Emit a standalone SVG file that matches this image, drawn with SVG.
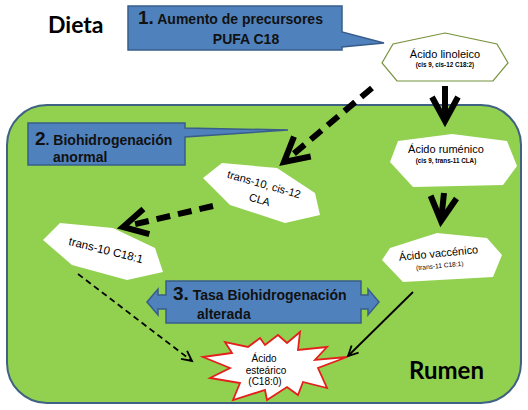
<svg xmlns="http://www.w3.org/2000/svg" width="528" height="410" viewBox="0 0 528 410">
<defs>
<style>
.title{font-family:Lato,"Open Sans","Liberation Sans",sans-serif;font-weight:bold;font-size:23px;fill:#000}
.callout{fill:#4f81bd;stroke:#385d8a;stroke-width:1.5}
.ct{font-family:"Liberation Sans",Arial,sans-serif;font-weight:bold;font-size:14px;fill:#111}
.num{font-size:19px}
.node{fill:#fff}
.nt{font-family:"Liberation Sans",Arial,sans-serif;font-size:11px;fill:#000;text-anchor:middle}
.ns{font-family:"Liberation Sans",Arial,sans-serif;font-size:6.3px;font-weight:bold;fill:#000;text-anchor:middle}
.nr{font-family:"Liberation Sans",Arial,sans-serif;font-size:6.6px;fill:#000;text-anchor:middle}
.thick{stroke:#000;stroke-width:6;fill:none}
.dash{stroke-dasharray:14 8}
.thin{stroke:#000;stroke-width:1.8;fill:none}
.tdash{stroke-dasharray:6 4}
</style>
<marker id="headThick" markerUnits="userSpaceOnUse" orient="auto" refX="0" refY="0" markerWidth="40" markerHeight="40" style="overflow:visible">
<path d="M-24,-13 L0,0 L-24,13" fill="none" stroke="#000" stroke-width="6" stroke-dasharray="none"/>
</marker>
<marker id="headThin" markerUnits="userSpaceOnUse" orient="auto" refX="0" refY="0" markerWidth="20" markerHeight="20" style="overflow:visible">
<path d="M-10,-5 L0,0 L-10,5" fill="none" stroke="#000" stroke-width="1.8" stroke-dasharray="none"/>
</marker>
</defs>
<rect x="0" y="0" width="528" height="410" fill="#fff"/>

<g id="rumen">
<rect x="7" y="105" width="514" height="298" rx="40" ry="40" fill="#92d050" stroke="#3f6183" stroke-width="2"/>
<text class="title" x="409" y="379" style="font-size:24px">Rumen</text>
</g>

<g id="dieta">
<text class="title" x="48" y="33">Dieta</text>
</g>

<g id="callout1">
<path class="callout" d="M128,6 L342,6 L342,32 L384,43 L342,47 L342,50 L128,50 Z"/>
<text class="ct" x="138" y="24"><tspan class="num">1.</tspan> Aumento de precursores</text>
<text class="ct" x="246" y="44" text-anchor="middle">PUFA C18</text>
</g>

<g id="callout2">
<path class="callout" d="M28,123 L185,123 L185,128 L288,130 L185,137 L185,165 L28,165 Z"/>
<text class="ct" x="35" y="145"><tspan class="num">2</tspan>. Biohidrogenación</text>
<text class="ct" x="53" y="162">anormal</text>
</g>

<g id="callout3">
<path class="callout" d="M147,302 L158,289 L158,295 L166,295 L166,281 L361,281 L361,295 L368,295 L368,289 L379,302 L368,315 L368,309 L361,309 L361,323 L166,323 L166,309 L158,309 L158,315 Z"/>
<text class="ct" x="173" y="300"><tspan class="num">3.</tspan> Tasa Biohidrogenación</text>
<text class="ct" x="197" y="319">alterada</text>
</g>

<g id="linoleico">
<polygon class="node" points="445,33 497,44 508,63 493,81 397,81 382,63 393,44" stroke="#77933c" stroke-width="1.2"/>
<text class="nt" x="445" y="58">Ácido linoleico</text>
<text class="ns" x="445" y="67">(cis 9, cis-12 C18:2)</text>
</g>

<g id="rumenico">
<polygon class="node" points="390,162 398,141 452,134 507,141 517,166 503,185 413,187"/>
<text class="nt" x="446" y="153">Ácido ruménico</text>
<text class="ns" x="446" y="163">(cis 9, trans-11 CLA)</text>
</g>

<g id="vaccenico">
<polygon class="node" points="382,260 390,248 437,233 487,238 502,255 493,277 403,282"/>
<g transform="rotate(-5.5 439 258)">
<text class="nt" x="439" y="257">Ácido vaccénico</text>
<text class="nr" x="439" y="268">(trans-11 C18:1)</text>
</g>
</g>

<g id="cla">
<polygon class="node" points="203,178 222,163 277,168 315,193 320,215 285,223 230,205"/>
<g transform="translate(263,188) rotate(16)">
<text class="nt" x="0" y="0">trans-10, cis-12</text>
<text class="nt" x="0" y="16">CLA</text>
</g>
</g>

<g id="trans10">
<polygon class="node" points="43,240 60,223 113,228 155,248 163,272 127,280 72,265"/>
<g transform="translate(105,254) rotate(14)">
<text class="nt" x="0" y="0" style="font-size:11.5px">trans-10 C18:1</text>
</g>
</g>

<g id="estearico">
<polygon points="203,357 232,353 225,342 248,347 260,338 265,345 278,335 287,343 300,332 298,350 327,347 315,360 347,357 318,368 327,388 303,382 298,395 287,387 267,400 265,390 233,400 240,383 210,378 230,368" fill="#fff" stroke="#e3201b" stroke-width="1.8" stroke-linejoin="miter"/>
<text class="nt" x="264" y="362" style="font-size:10px">Ácido</text>
<text class="nt" x="266" y="374" style="font-size:10px">esteárico</text>
<text class="nt" x="265" y="385" style="font-size:10px">(C18:0)</text>
</g>

<g id="connectors">
<line class="thick" x1="445" y1="86" x2="445" y2="121" marker-end="url(#headThick)"/>
<line class="thick" x1="444" y1="193" x2="441" y2="221" marker-end="url(#headThick)"/>
<line class="thick dash" x1="372" y1="88" x2="284" y2="162" marker-end="url(#headThick)"/>
<line class="thick dash" x1="213" y1="206" x2="123" y2="227" marker-end="url(#headThick)"/>
<line class="thin tdash" x1="78" y1="274" x2="192" y2="361" marker-end="url(#headThin)"/>
<line class="thin" x1="413" y1="292" x2="348" y2="356" marker-end="url(#headThin)"/>
</g>
</svg>
